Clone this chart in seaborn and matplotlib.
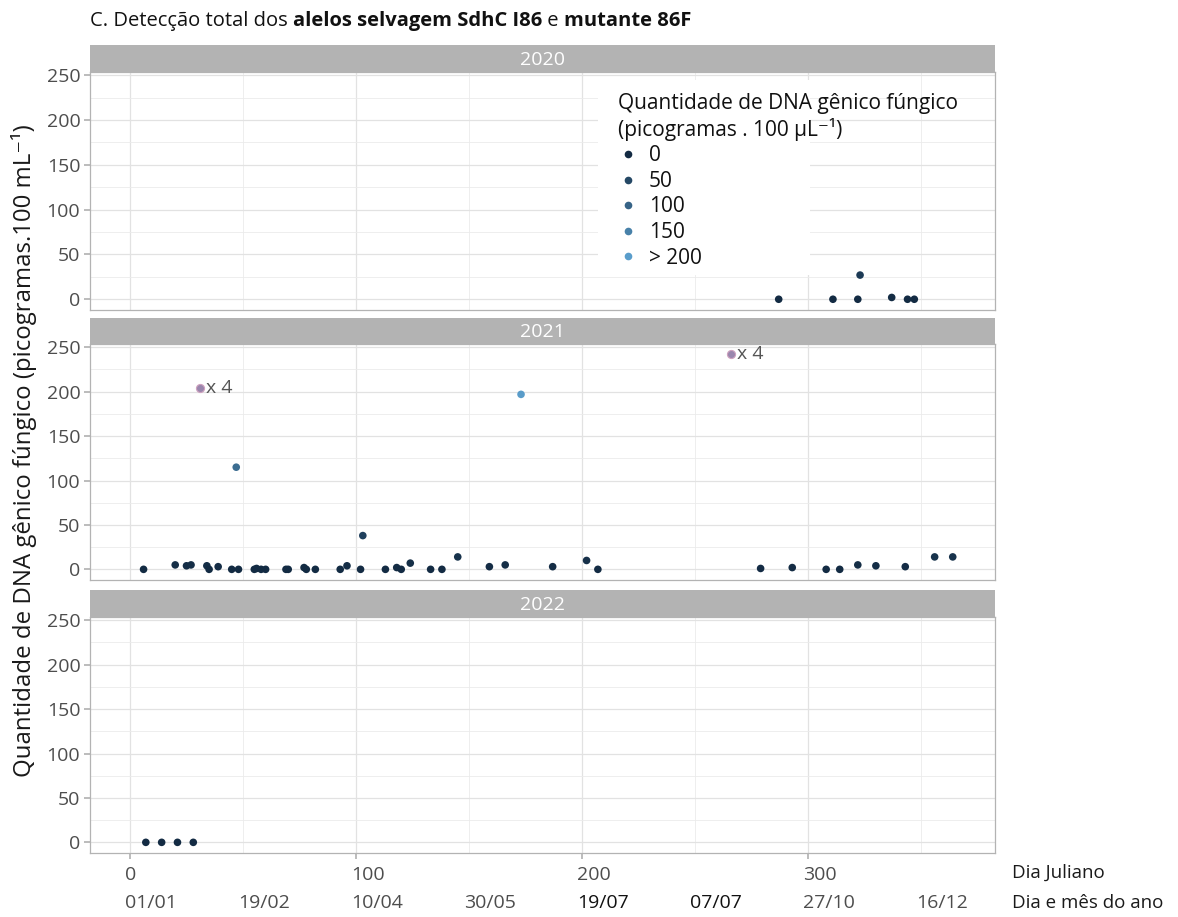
import numpy as np
import matplotlib
matplotlib.use("Agg")
import matplotlib.pyplot as plt
import matplotlib.transforms as mtransforms
import seaborn as sns
from matplotlib.colors import LinearSegmentedColormap, Normalize
from matplotlib.lines import Line2D
from matplotlib.patches import Rectangle
from matplotlib.ticker import MultipleLocator

# Dados (dia juliano, quantidade de DNA)
days_2020 = [287, 311, 322, 323, 337, 344, 347]
dna_2020 = [0, 0, 0, 27, 2, 0, 0]

days_2021 = [6, 20, 25, 27, 34, 35, 39, 45, 47, 48, 55, 56, 58, 60, 69, 70, 77, 78,
             82, 93, 96, 102, 103, 113, 118, 120, 124, 133, 138, 145, 159, 166, 173,
             187, 202, 207, 279, 293, 308, 314, 322, 330, 343, 356, 364]
dna_2021 = [0, 5, 4, 5, 4, 0, 3, 0, 115, 0, 0, 1, 0, 0, 0, 0, 2, 0,
            0, 0, 4, 0, 38, 0, 2, 0, 7, 0, 0, 14, 3, 5, 197,
            3, 10, 0, 1, 2, 0, 0, 5, 4, 3, 14, 14]

days_2022 = [7, 14, 21, 28]
dna_2022 = [0, 0, 0, 0]

# pontos marcados "x 4"
days_x4 = [31, 266]
dna_x4 = [204, 242]

years = ["2020", "2021", "2022"]
julian_ticks = [0, 100, 200, 300]
date_ticks = [0, 50, 100, 150, 200, 250, 300, 350]
date_labels = ["01/01", "19/02", "10/04", "30/05", "19/07", "07/07", "27/10", "16/12"]
legend_breaks = [0, 50, 100, 150, 200]
legend_labels = ["0", "50", "100", "150", "> 200"]

sns.set_theme(style="white")
plt.rcParams["font.family"] = ["Open Sans", "DejaVu Sans"]

cmap = LinearSegmentedColormap.from_list("dna", ["#132B43", "#5A9DCB"])
norm = Normalize(0, 200)

W, H = 1178, 917
fig = plt.figure(figsize=(W / 100, H / 100), dpi=100)
left, width = 90 / W, 905 / W
panel_px = [(72, 310), (344, 580), (617, 853)]
strip_top = [45, 318, 590]

series = [(days_2020, dna_2020), (days_2021, dna_2021), (days_2022, dna_2022)]
axes = []
for i, (top, bot) in enumerate(panel_px):
    ax = fig.add_axes([left, 1 - bot / H, width, (bot - top) / H])
    axes.append(ax)
    d, v = series[i]
    sns.scatterplot(x=d, y=v, hue=v, palette=cmap, hue_norm=norm, s=30,
                    linewidth=0, legend=False, ax=ax, zorder=5)
    ax.set_xlim(-17.7, 382.7)
    ax.set_ylim(-12, 253.7)
    ax.set_yticks([0, 50, 100, 150, 200, 250])
    ax.yaxis.set_minor_locator(MultipleLocator(25))
    ax.set_xticks(julian_ticks)
    ax.xaxis.set_minor_locator(MultipleLocator(50))
    ax.grid(which="major", color="#e2e2e2", linewidth=0.9)
    ax.grid(which="minor", color="#ebebeb", linewidth=0.6)
    ax.set_axisbelow(True)
    for sp in ax.spines.values():
        sp.set_color("#b3b3b3")
        sp.set_linewidth(0.9)
    ax.tick_params(axis="y", which="major", left=True, length=4, color="#b3b3b3",
                   labelsize=14, labelcolor="#4d4d4d", pad=3)
    ax.tick_params(which="minor", length=0)
    ax.set_xlabel("")
    ax.set_ylabel("")
    if i < 2:
        ax.tick_params(axis="x", which="major", bottom=False, labelbottom=False)
    else:
        ax.tick_params(axis="x", which="major", bottom=True, length=4, color="#b3b3b3",
                       labelsize=14, labelcolor="#4d4d4d", pad=5)
        shift = mtransforms.ScaledTranslation(-5 / 100, 0, fig.dpi_scale_trans)
        for lab in ax.get_xticklabels():
            lab.set_horizontalalignment("left")
            lab.set_transform(lab.get_transform() + shift)

    sax = fig.add_axes([left, 1 - top / H, width, (top - strip_top[i]) / H])
    sax.set_facecolor("#b3b3b3")
    sax.set_xticks([])
    sax.set_yticks([])
    for sp in sax.spines.values():
        sp.set_visible(False)
    sax.text(0.5, 0.45, years[i], transform=sax.transAxes, ha="center", va="center",
             color="white", fontsize=14)

# pontos "x 4" em 2021
ax21 = axes[1]
sns.scatterplot(x=days_x4, y=dna_x4, color="#9a86ad", edgecolor="#cfa2bf",
                linewidth=0.8, s=34, ax=ax21, zorder=6)
for d, v in zip(days_x4, dna_x4):
    ax21.annotate("x 4", (d, v), xytext=(4, 0), textcoords="offset points",
                  va="center", ha="left", fontsize=14, color="#555555")

# legenda no painel 2020
ax20 = axes[0]
ax20.add_patch(Rectangle((0.561, 0.147), 0.235, 0.82, transform=ax20.transAxes,
                         facecolor="white", edgecolor="none", zorder=3))
handles = [Line2D([0], [0], marker="o", linestyle="", markersize=5.5,
                  markerfacecolor=cmap(norm(b)), markeredgewidth=0) for b in legend_breaks]
leg = ax20.legend(handles, legend_labels,
                  title="Quantidade de DNA gênico fúngico\n(picogramas . 100 μL⁻¹)",
                  loc="upper left", bbox_to_anchor=(0.5724, 0.955), frameon=False,
                  fontsize=15, title_fontsize=15, alignment="left", borderpad=0,
                  handlelength=0.95, handletextpad=0.5, labelspacing=0.22)
leg.get_title().set_color("#111111")
for t in leg.get_texts():
    t.set_color("#111111")
leg.set_zorder(7)

# rotulos de data abaixo do eixo
ax22 = axes[2]
trans = mtransforms.blended_transform_factory(ax22.transData, fig.transFigure) + \
    mtransforms.ScaledTranslation(-5 / 100, 0, fig.dpi_scale_trans)
for d, lab in zip(date_ticks, date_labels):
    col = "#111111" if lab in ("19/07", "07/07") else "#4d4d4d"
    fig.text(d, 1 - 903 / H, lab, transform=trans, ha="left", va="center",
             fontsize=14, color=col)
fig.text(1012 / W, 1 - 873 / H, "Dia Juliano", ha="left", va="center",
         fontsize=13.5, color="#1a1a1a")
fig.text(1012 / W, 1 - 903 / H, "Dia e mês do ano", ha="left", va="center",
         fontsize=13.5, color="#1a1a1a")

fig.text(24 / W, 1 - 451 / H, "Quantidade de DNA gênico fúngico (picogramas.100 mL⁻¹)",
         rotation=90, ha="center", va="center", fontsize=17.3, color="#1a1a1a")

# titulo com partes em negrito
renderer = fig.canvas.get_renderer()
pieces = [("C. Detecção total dos ", "normal"), ("alelos selvagem SdhC I86", "bold"),
          (" e ", "normal"), ("mutante 86F", "bold")]
x = 90 / W
for txt, wt in pieces:
    t = fig.text(x, 1 - 21 / H, txt, ha="left", va="center", fontsize=14.5,
                 fontweight=wt, color="#111111")
    bb = t.get_window_extent(renderer)
    x = bb.x1 / W

fig.savefig("out.png", dpi=100)
